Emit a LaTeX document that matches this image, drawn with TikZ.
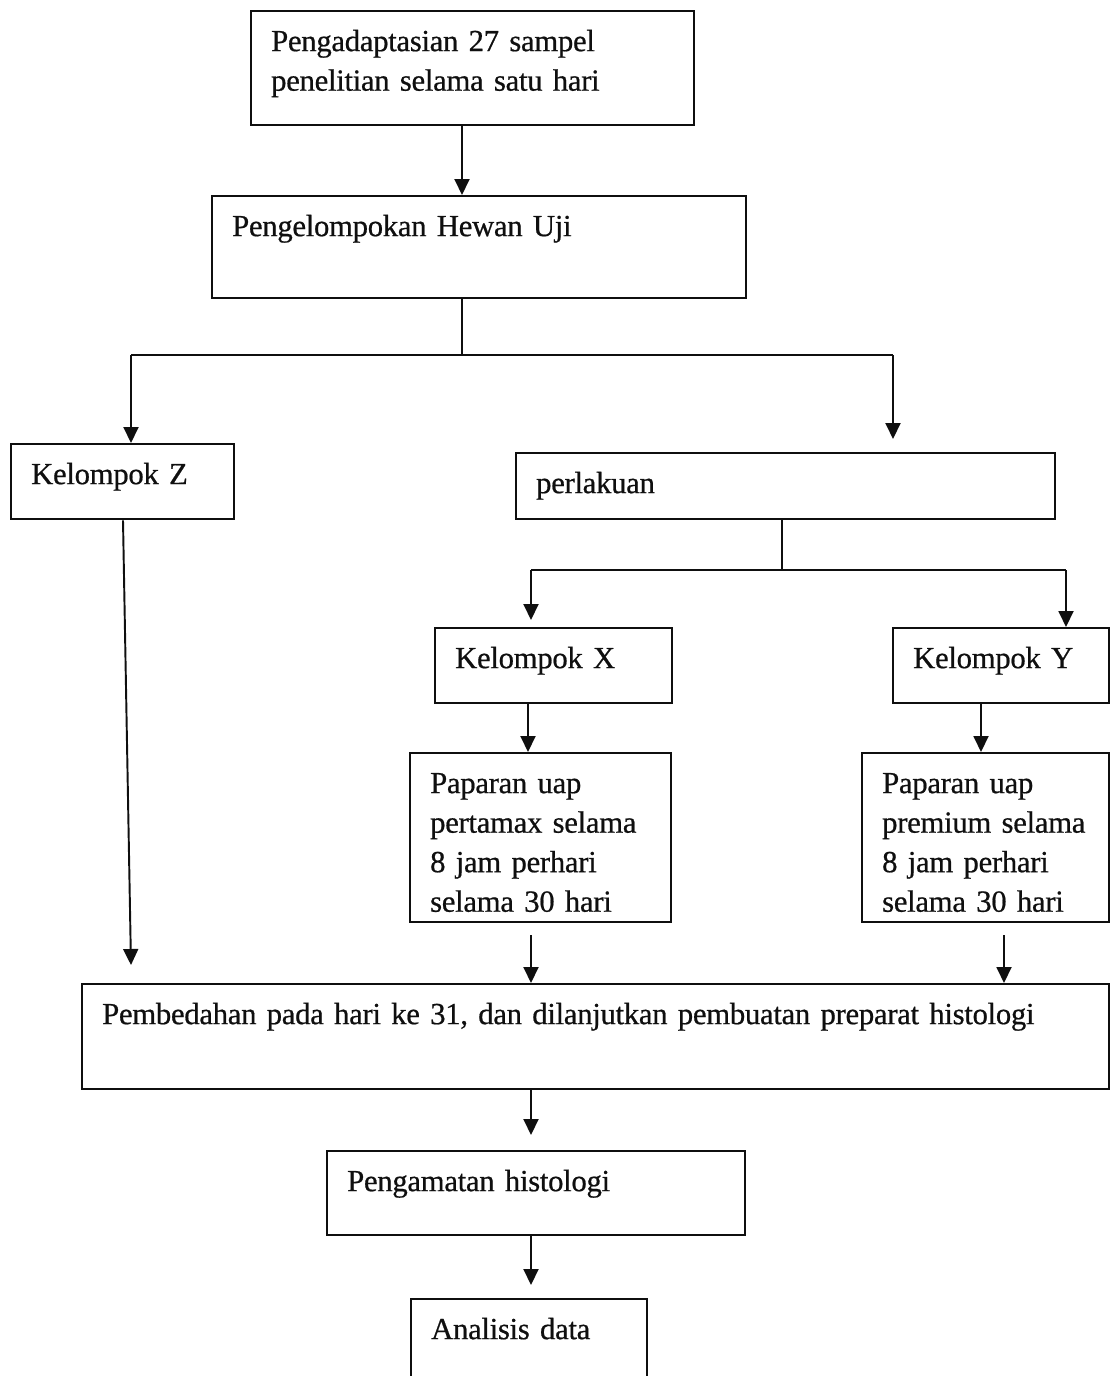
\documentclass[tikz,border=0pt]{standalone}
\usepackage{fontspec}
\setmainfont[WordSpace=0.75,LetterSpace=-1.0,FakeBold=0.6]{Liberation Serif}
\usetikzlibrary{arrows.meta,calc}
\definecolor{ink}{RGB}{15,15,15}
\tikzset{
  >={Triangle[length=3.2mm,width=3mm]},
  kotak/.style={draw=ink,line width=1.3pt,anchor=north west,align=left,
    inner xsep=0.4cm,inner ysep=0pt,text height=0.8cm,text=ink,
    font=\fontsize{17.5}{22.5}\selectfont},
  alur/.style={->,draw=ink,line width=1.1pt},
  garis/.style={draw=ink,line width=1.1pt},
}
\begin{document}
\begin{tikzpicture}[x=0.02cm,y=-0.02cm]
  \useasboundingbox (0,0) rectangle (1111,1376);

  \node[kotak,text width=8.06cm,text depth=1.48cm] (adaptasi) at (250,10)
    {Pengadaptasian 27 sampel\\penelitian selama satu hari};
  \node[kotak,text width=9.88cm,text depth=1.24cm] (kelompok) at (211,195)
    {Pengelompokan Hewan Uji};
  \node[kotak,text width=3.66cm,text depth=0.7cm] (kelZ) at (10,443)
    {Kelompok Z};
  \node[kotak,text width=9.98cm,text depth=0.52cm] (perlakuan) at (515,452)
    {perlakuan};
  \node[kotak,text width=3.94cm,text depth=0.7cm] (kelX) at (434,627)
    {Kelompok X};
  \node[kotak,text width=3.52cm,text depth=0.7cm] (kelY) at (892,627)
    {Kelompok Y};
  \node[kotak,text width=4.42cm,text depth=2.58cm] (paparanX) at (409,752)
    {Paparan uap\\pertamax selama\\8 jam perhari\\selama 30 hari};
  \node[kotak,text width=4.14cm,text depth=2.58cm] (paparanY) at (861,752)
    {Paparan uap\\premium selama\\8 jam perhari\\selama 30 hari};
  \node[kotak,text width=19.74cm,text depth=1.3cm] (bedah) at (81,983)
    {Pembedahan pada hari ke 31, dan dilanjutkan pembuatan preparat histologi};
  \node[kotak,text width=7.56cm,text depth=0.88cm] (amati) at (326,1150)
    {Pengamatan histologi};
  \node[kotak,text width=3.92cm,text depth=1.64cm] (analisis) at (410,1298)
    {Analisis data};

  % titik cabang
  \coordinate (pecah1) at (462,355);
  \coordinate (kiri1) at (131,355);
  \coordinate (kanan1) at (893,355);
  \coordinate (pecah2) at (782,570);
  \coordinate (kiri2) at (531,570);
  \coordinate (kanan2) at (1066,570);
  \coordinate (jalurZ) at (123,0);
  \coordinate (jalurX) at (528,0);
  \coordinate (jalurY) at (981,0);
  \coordinate (jalurB) at (531,0);
  \coordinate (jalurC) at (1004,0);

  \draw[alur] (adaptasi.south -| pecah1) -- (kelompok.north -| pecah1);
  \draw[garis] (kelompok.south -| pecah1) -- (pecah1);
  \draw[garis] (kiri1) -- (kanan1);
  \draw[alur] (kiri1) -- (kelZ.north -| kiri1);
  \draw[alur] (kanan1) -- ($(perlakuan.north -| kanan1)+(0,-13)$);
  \draw[garis] (perlakuan.south -| pecah2) -- (pecah2);
  \draw[garis] (kiri2) -- (kanan2);
  \draw[alur] (kiri2) -- ($(kelX.north -| kiri2)+(0,-7)$);
  \draw[alur] (kanan2) -- (kelY.north -| kanan2);
  \draw[alur] (kelX.south -| jalurX) -- (paparanX.north -| jalurX);
  \draw[alur] (kelY.south -| jalurY) -- (paparanY.north -| jalurY);
  \draw[alur] (kelZ.south -| jalurZ) -- ($(bedah.north -| kiri1)+(0,-18)$);
  \draw[alur] ($(paparanX.south -| jalurB)+(0,12)$) -- (bedah.north -| jalurB);
  \draw[alur] ($(paparanY.south -| jalurC)+(0,12)$) -- (bedah.north -| jalurC);
  \draw[alur] (bedah.south -| jalurB) -- ($(amati.north -| jalurB)+(0,-15)$);
  \draw[alur] (amati.south -| jalurB) -- ($(analisis.north -| jalurB)+(0,-13)$);
\end{tikzpicture}
\end{document}
